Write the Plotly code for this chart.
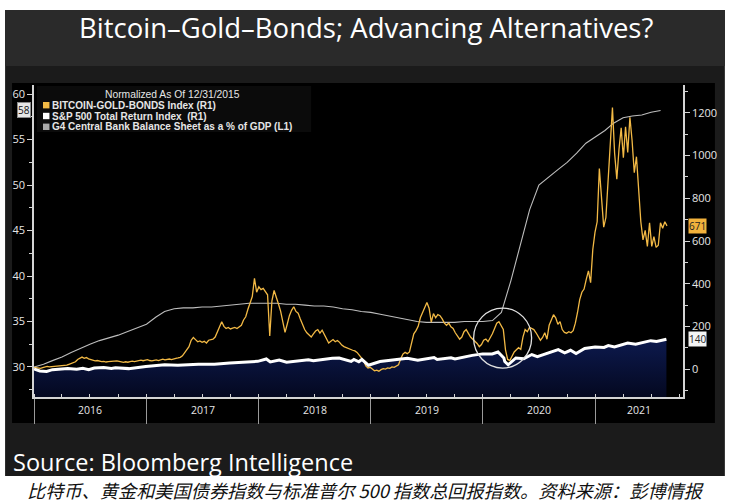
import pandas as pd
import plotly.graph_objects as go

# ---------------- data ----------------
TITLE = "Bitcoin–Gold–Bonds; Advancing Alternatives?"
SOURCE = "Source: Bloomberg Intelligence"
CAPTION = "比特币、黄金和美国债券指数与标准普尔 500 指数总回报指数。资料来源：彭博情报"
LEGEND_HEADER = "Normalized As Of 12/31/2015"
NAME_GOLD = "BITCOIN-GOLD-BONDS Index (R1)"
NAME_SP = "S&P 500 Total Return Index  (R1)"
NAME_G4 = "G4 Central Bank Balance Sheet as a % of GDP (L1)"

years = ["2016", "2017", "2018", "2019", "2020", "2021"]

# Bitcoin-Gold-Bonds index (right axis), evenly spaced observations
gold_first, gold_last = "2016-01-01", "2021-08-22"
gold_values = [
    8, 6, 5, 3, 7, 9, 12, 10, 11, 13, 12, 14, 13,
    15, 16, 18, 22, 25, 30, 34, 45, 52, 56, 50, 54, 48,
    44, 42, 38, 40, 37, 35, 36, 33, 35, 36, 34, 37, 38,
    36, 33, 31, 34, 32, 35, 37, 35, 38, 40, 42, 39, 41,
    44, 40, 38, 41, 43, 40, 44, 46, 43, 45, 47, 44, 48,
    50, 52, 55, 62, 75, 90, 105, 135, 148, 138, 128, 132, 125,
    130, 122, 135, 138, 140, 150, 175, 205, 222, 200, 190, 195, 188,
    192, 195, 190, 198, 205, 230, 245, 280, 310, 340, 425, 360, 385,
    372, 378, 360, 348, 155, 320, 368, 340, 305, 270, 220, 172, 210,
    250, 275, 292, 270, 262, 235, 205, 185, 170, 158, 150, 165, 178,
    185, 168, 182, 160, 140, 122, 130, 138, 128, 134, 125, 112, 105,
    100, 95, 92, 88, 85, 78, 65, 55, 40, 15, 5, 8, -2,
    -8, -5, -10, -3, 2, 0, 5, 3, 10, 8, 15, 20, 48,
    70, 78, 72, 80, 120, 165, 180, 200, 240, 265, 290, 312, 285,
    220, 260, 240, 255, 250, 235, 215, 205, 215, 198, 190, 170, 155,
    140, 150, 175, 185, 165, 150, 140, 130, 120, 105, 115, 135, 140,
    128, 145, 165, 190, 215, 222, 200, 185, 90, 45, 40, 62, 80,
    90, 100, 92, 150, 185, 175, 195, 190, 185, 170, 150, 135, 148,
    170, 140, 205, 230, 255, 240, 210, 222, 185, 172, 168, 175, 170,
    180, 215, 265, 325, 360, 375, 420, 460, 405, 560, 640, 690, 940,
    790, 665, 710, 900, 1070, 1225, 1010, 890, 1030, 1130, 990, 1135, 1015,
    1180, 1070, 920, 995, 850, 690, 605, 650, 575, 685, 575, 620, 570,
    580, 685, 660, 690, 671,
]

# S&P 500 total return index (right axis)
sp_dates = [
    "2016-01-01", "2016-01-20", "2016-02-11", "2016-03-01", "2016-04-20", "2016-05-19",
    "2016-06-08", "2016-06-27", "2016-07-15", "2016-08-15", "2016-09-09", "2016-09-22",
    "2016-11-04", "2016-12-13", "2016-12-30", "2017-03-01", "2017-04-13", "2017-06-19",
    "2017-08-10", "2017-09-29", "2017-11-08", "2017-12-29", "2018-01-26", "2018-02-08",
    "2018-03-09", "2018-04-02", "2018-06-12", "2018-06-28", "2018-08-29", "2018-09-20",
    "2018-10-29", "2018-11-07", "2018-11-23", "2018-12-03", "2018-12-24", "2019-01-31",
    "2019-04-30", "2019-06-03", "2019-07-26", "2019-08-05", "2019-09-19", "2019-10-02",
    "2019-11-27", "2019-12-31", "2020-01-31", "2020-02-19", "2020-03-09", "2020-03-12",
    "2020-03-23", "2020-04-17", "2020-05-13", "2020-06-08", "2020-06-26", "2020-07-31",
    "2020-09-02", "2020-09-23", "2020-10-12", "2020-10-30", "2020-11-27", "2020-12-31",
    "2021-01-29", "2021-02-12", "2021-03-04", "2021-04-16", "2021-05-12", "2021-06-30",
    "2021-07-19", "2021-08-20",
]
sp_values = [
    0, -9, -11, -3, 3, -1,
    4, -3, 5, 7, 3, 6,
    2, 11, 12, 20, 18, 23,
    23, 28, 33, 36, 47, 33,
    42, 32, 43, 39, 51, 52,
    36, 45, 34, 45, 18, 35,
    50, 41, 54, 45, 53, 47,
    64, 71, 71, 80, 52, 35,
    20, 52, 48, 68, 58, 75,
    91, 76, 88, 73, 96, 103,
    101, 110, 104, 122, 116, 133,
    129, 140,
]

# G4 central bank balance sheet as % of GDP (left axis), monthly
g4_first = "2016-01-01"
g4_values = [
    30.0, 30.3, 30.7, 31.1, 31.6, 32.1, 32.5, 32.9, 33.2, 33.5, 33.9, 34.3,
    34.7, 35.5, 36.1, 36.4, 36.5, 36.5, 36.6, 36.6, 36.7, 36.8, 36.9, 37.0,
    37.0, 37.0, 37.0, 36.9, 36.9, 36.8, 36.7, 36.7, 36.6, 36.4, 36.3, 36.1,
    36.0, 35.8, 35.6, 35.4, 35.2, 35.0, 34.9, 34.9, 34.9, 34.9, 35.0, 35.0,
    35.0, 35.1, 36.0, 39.5, 43.5, 47.3, 50.0, 50.9, 51.7, 52.5, 53.5, 54.6,
    55.3, 56.0, 56.8, 57.4, 57.6, 57.7, 58.0, 58.2,
]

X_RANGE = ["2016-01-01", "2021-10-13"]
Y1_RANGE = [26.7, 61.0]
Y2_RANGE = [-131, 1331]

# circled region (COVID crash)
CIRCLE_CENTER = ("2020-03-05", 145)

gold_dates = pd.date_range(gold_first, gold_last, periods=len(gold_values))
g4_dates = pd.date_range(g4_first, periods=len(g4_values), freq="MS")

# ---------------- layout helpers (pixel -> paper) ----------------
W, H = 750, 503
L, R, T, B = 32, 683, 85, 397


def px(x):
    return (x - L) / (R - L)


def py(y):
    return (B - y) / (B - T)


FONT = "Open Sans"
LEG_FONT = "Liberation Sans"
AX_COL = "#d4d4d4"
TXT_COL = "#e6e6e6"
GOLD_COL = "#f2b945"
G4_COL = "#bdbdbd"

fig = go.Figure()

# baseline for area fill (bottom of right axis)
fig.add_trace(go.Scatter(
    x=sp_dates, y=[Y2_RANGE[0]] * len(sp_dates), yaxis="y2", mode="lines",
    line=dict(width=0, color="rgba(0,0,0,0)"), showlegend=False, hoverinfo="skip"))
fig.add_trace(go.Scatter(
    x=sp_dates, y=sp_values, yaxis="y2", mode="lines", fill="tonexty",
    fillgradient=dict(type="vertical", colorscale=[[0, "#040820"], [1, "#0d1a4e"]]),
    line=dict(width=0, color="rgba(0,0,0,0)"), showlegend=False, hoverinfo="skip"))

fig.add_trace(go.Scatter(
    x=g4_dates, y=g4_values, yaxis="y", mode="lines", name=NAME_G4,
    line=dict(color=G4_COL, width=1.1), showlegend=False))
fig.add_trace(go.Scatter(
    x=gold_dates, y=gold_values, yaxis="y2", mode="lines", name=NAME_GOLD,
    line=dict(color=GOLD_COL, width=1.3), showlegend=False))
fig.add_trace(go.Scatter(
    x=sp_dates, y=sp_values, yaxis="y2", mode="lines", name=NAME_SP,
    line=dict(color="#ffffff", width=3), showlegend=False))

# ---------------- background panels ----------------
shapes = [
    dict(type="rect", xref="paper", yref="paper", x0=px(3), x1=px(725), y0=py(476), y1=py(10),
         fillcolor="#1b1b1b", line=dict(width=0), layer="below"),
    dict(type="rect", xref="paper", yref="paper", x0=px(3), x1=px(725), y0=py(66), y1=py(10),
         fillcolor="#2a2a2a", line=dict(width=0), layer="below"),
    dict(type="rect", xref="paper", yref="paper", x0=px(10), x1=px(715), y0=py(423), y1=py(83),
         fillcolor="#000000", line=dict(width=0), layer="below"),
    dict(type="rect", xref="paper", yref="paper", x0=px(35), x1=px(310), y0=py(132), y1=py(86),
         fillcolor="#0b0b0b", line=dict(width=0), layer="below"),
]

legend_rows = [(NAME_GOLD, GOLD_COL, 105.2), (NAME_SP, "#ffffff", 116.0), (NAME_G4, "#a8a8a8", 126.8)]
annotations = []
for name, col, yy in legend_rows:
    shapes.append(dict(type="rect", xref="paper", yref="paper", x0=px(41), x1=px(47.5),
                       y0=py(yy + 3.2), y1=py(yy - 3.2), fillcolor=col, line=dict(width=0)))
    annotations.append(dict(xref="paper", yref="paper", x=px(49), y=py(yy), text=name,
                            showarrow=False, xanchor="left", yanchor="middle", borderpad=0,
                            font=dict(family=LEG_FONT, size=10, weight="bold", color=TXT_COL)))
annotations.append(dict(xref="paper", yref="paper", x=px(171), y=py(94.4), text=LEGEND_HEADER,
                        showarrow=False, xanchor="center", yanchor="middle", borderpad=0,
                        font=dict(family=LEG_FONT, size=10.3, color=TXT_COL)))

# circle highlight
shapes.append(dict(type="circle", xref="x", yref="y2", xsizemode="pixel", ysizemode="pixel",
                   xanchor=CIRCLE_CENTER[0], yanchor=CIRCLE_CENTER[1],
                   x0=-29, x1=29, y0=-30, y1=30, line=dict(color="#e0e0e0", width=1.3)))

# title, source, caption
annotations += [
    dict(xref="paper", yref="paper", x=px(365), y=py(28), text=TITLE, showarrow=False,
         xanchor="center", yanchor="middle", font=dict(family=FONT, size=27.5, color="#ffffff")),
    dict(xref="paper", yref="paper", x=px(9), y=py(462), text=SOURCE, showarrow=False,
         xanchor="left", yanchor="middle", font=dict(family=FONT, size=23.5, color="#ffffff")),
    dict(xref="paper", yref="paper", x=px(365), y=py(490), text=CAPTION, showarrow=False,
         xanchor="center", yanchor="middle",
         font=dict(family="Noto Sans CJK SC", size=18.2, color="#111111", style="italic")),
]

# year labels centred in the visible part of each year
x0r, x1r = pd.Timestamp(X_RANGE[0]), pd.Timestamp(X_RANGE[1])
for yr in years:
    a = max(pd.Timestamp(f"{yr}-01-01"), x0r)
    b = min(pd.Timestamp(f"{int(yr) + 1}-01-01"), x1r)
    annotations.append(dict(xref="x", yref="paper", x=a + (b - a) / 2, y=py(410), text=yr,
                            showarrow=False, xanchor="center", yanchor="middle",
                            font=dict(family=FONT, size=10.5, color=TXT_COL)))

# last-value tags
annotations += [
    dict(xref="paper", yref="y", x=px(22), y=g4_values[-1], text=f"{round(g4_values[-1])}",
         showarrow=False, xanchor="center", yanchor="middle", bgcolor="#e6e6e6",
         bordercolor="#888888", borderwidth=1, borderpad=0,
         font=dict(family=FONT, size=10, color="#111111")),
    dict(xref="paper", yref="y2", x=px(698), y=gold_values[-1], text=f"{gold_values[-1]}",
         showarrow=False, xanchor="center", yanchor="middle", bgcolor="#f2b23c",
         borderpad=0, font=dict(family=FONT, size=10, color="#222222")),
    dict(xref="paper", yref="y2", x=px(698), y=sp_values[-1], text=f"{sp_values[-1]}",
         showarrow=False, xanchor="center", yanchor="middle", bgcolor="#f4f4f4",
         borderpad=0, font=dict(family=FONT, size=10, color="#222222")),
]

tickfont = dict(family=FONT, size=11, color=TXT_COL)
fig.update_layout(
    width=W, height=H, margin=dict(l=L, r=W - R, t=T, b=H - B),
    paper_bgcolor="#ffffff", plot_bgcolor="rgba(0,0,0,0)",
    showlegend=False, shapes=shapes, annotations=annotations,
    xaxis=dict(type="date", range=X_RANGE, showgrid=False, zeroline=False,
               showline=True, linecolor=AX_COL, linewidth=1.5,
               ticks="outside", ticklen=25, tickcolor="#9a9a9a", tickwidth=1,
               tick0="2016-01-01", dtick="M12", showticklabels=False,
               minor=dict(dtick="M3", ticks="inside", ticklen=3, tickcolor=AX_COL, showgrid=False)),
    yaxis=dict(range=Y1_RANGE, side="left", showgrid=False, zeroline=False,
               showline=True, linecolor=AX_COL, linewidth=1.5,
               ticks="outside", ticklen=5, tickcolor=AX_COL, tick0=30, dtick=5,
               minor=dict(dtick=2.5, ticks="outside", ticklen=3, tickcolor=AX_COL),
               tickfont=tickfont),
    yaxis2=dict(range=Y2_RANGE, side="right", overlaying="y", anchor="x", showgrid=False,
                zeroline=False, showline=True, linecolor=AX_COL, linewidth=1.5,
                ticks="outside", ticklen=5, tickcolor=AX_COL, tick0=0, dtick=200,
                minor=dict(dtick=100, ticks="outside", ticklen=3, tickcolor=AX_COL),
                tickfont=tickfont),
)

fig.write_html("out.html")
